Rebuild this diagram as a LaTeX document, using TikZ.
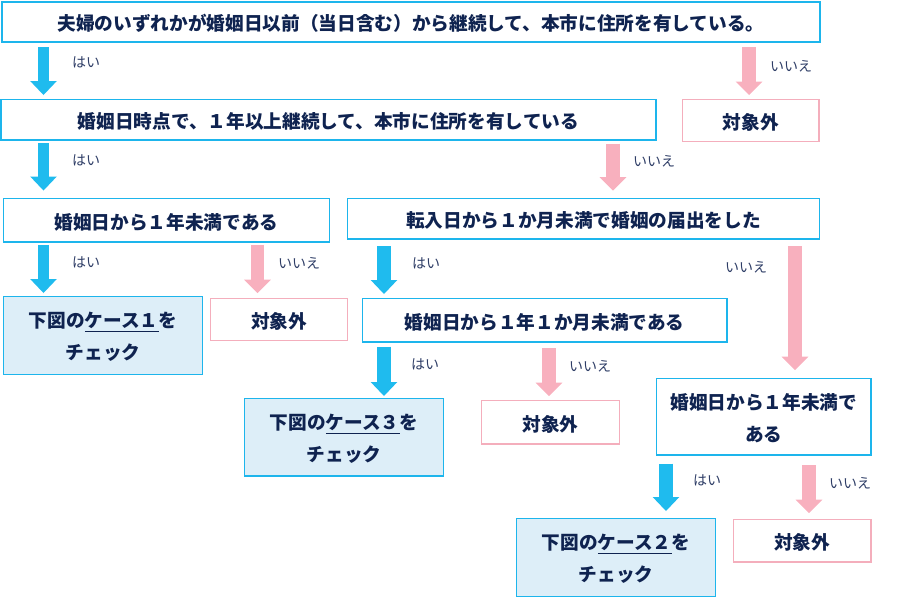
\documentclass[tikz,border=0pt]{standalone}
\usepackage{fontspec}
\newfontfamily\jp{Noto Sans CJK JP}
\usetikzlibrary{arrows.meta}
\definecolor{cyanb}{HTML}{1DB5EC}
\definecolor{pinkb}{HTML}{F4AEBC}
\definecolor{arrblue}{HTML}{1FBBEE}
\definecolor{arrpink}{HTML}{F8B0BE}
\definecolor{lightfill}{HTML}{DDEEF8}
\definecolor{navy}{HTML}{0F2350}
\definecolor{lblc}{HTML}{2E3D66}
\newcommand\bx[7]{\node[#6, minimum width={(#4-#2)*0.75pt}, minimum height={(#5-#3)*0.75pt},
  label={[btext]center:{#7}}] (#1) at ({(#2+#4)/2},{(#3+#5)/2}) {};}
\tikzset{
  qbox/.style={draw=cyanb, line width=0.8pt, inner sep=0pt},
  btext/.style={inner sep=0pt, text=navy, align=center, yshift=-1.3pt,
    font=\jp\bfseries\fontsize{14pt}{24pt}\selectfont},
  cbox/.style={qbox, fill=lightfill},
  xbox/.style={qbox, draw=pinkb},
  yesarr/.style={draw=arrblue, line width=10pt, -{Triangle[width=20pt,length=10.5pt,line width=0pt 0 0]}},
  noarr/.style={draw=arrpink, line width=10pt, -{Triangle[width=20pt,length=10pt,line width=0pt 0 0]}},
  lbl/.style={font=\jp\fontsize{10.5pt}{12pt}\selectfont, text=lblc, inner sep=0pt},
}
\begin{document}
\begin{tikzpicture}[x=0.75pt,y=-0.75pt]
\useasboundingbox (0,0) rectangle (908,597);
% boxes
\bx{n1}{2}{2}{820}{42}{qbox}{夫婦のいずれかが婚姻日以前（当日含む）から継続して、本市に住所を有している。}
\bx{n2}{1}{99.5}{656}{140}{qbox}{婚姻日時点で、１年以上継続して、本市に住所を有している}
\bx{x1}{682.5}{99.5}{819}{141.5}{xbox}{対象外}
\bx{n3}{3.5}{198.5}{329.5}{242}{qbox}{婚姻日から１年未満である}
\bx{n4}{347.5}{198.5}{819.5}{239}{qbox}{転入日から１か月未満で婚姻の届出をした}
\bx{c1}{3.5}{296.5}{202.5}{374.5}{cbox}{下図の\underline{ケース１}を\\チェック}
\bx{x2}{210.5}{298.5}{347.5}{340.5}{xbox}{対象外}
\bx{n5}{362.5}{298.5}{727}{342}{qbox}{婚姻日から１年１か月未満である}
\bx{c3}{244.5}{398.5}{443.5}{476}{cbox}{下図の\underline{ケース３}を\\チェック}
\bx{x3}{481.5}{400.5}{619.5}{444}{xbox}{対象外}
\bx{n6}{656.5}{378.5}{871}{455}{qbox}{婚姻日から１年未満で\\ある}
\bx{c2}{516.5}{518.5}{715.5}{596.5}{cbox}{下図の\underline{ケース２}を\\チェック}
\bx{x4}{733.5}{519.5}{871}{562}{xbox}{対象外}
% arrow end points
\coordinate (a1s) at (43.5,47);   \coordinate (a1e) at (43.5,95);
\coordinate (b1s) at (749,47);    \coordinate (b1e) at (749,95);
\coordinate (a2s) at (43.5,143);  \coordinate (a2e) at (43.5,190.5);
\coordinate (b2s) at (613,143.5); \coordinate (b2e) at (613,190.5);
\coordinate (a3s) at (43.5,245);  \coordinate (a3e) at (43.5,293);
\coordinate (b3s) at (257.5,245); \coordinate (b3e) at (257.5,293);
\coordinate (a4s) at (384,246);   \coordinate (a4e) at (384,294);
\coordinate (b4s) at (795,246);   \coordinate (b4e) at (795,370);
\coordinate (a5s) at (384,346.5); \coordinate (a5e) at (384,396);
\coordinate (b5s) at (549,348);   \coordinate (b5e) at (549,396);
\coordinate (a6s) at (666,463.5); \coordinate (a6e) at (666,511);
\coordinate (b6s) at (809,465);   \coordinate (b6e) at (809,513);
% arrows
\draw[yesarr, line width=8pt] (a1s) -- (a1e);
\draw[noarr] (b1s) -- (b1e);
\draw[yesarr, line width=8pt] (a2s) -- (a2e);
\draw[noarr] (b2s) -- (b2e);
\draw[yesarr, line width=8pt] (a3s) -- (a3e);
\draw[noarr] (b3s) -- (b3e);
\draw[yesarr] (a4s) -- (a4e);
\draw[noarr] (b4s) -- (b4e);
\draw[yesarr] (a5s) -- (a5e);
\draw[noarr] (b5s) -- (b5e);
\draw[yesarr] (a6s) -- (a6e);
\draw[noarr] (b6s) -- (b6e);
% labels
\node[lbl] (l1) at (86,62) {はい};
\node[lbl] (m1) at (791,66) {いいえ};
\node[lbl] (l2) at (86,160) {はい};
\node[lbl] (m2) at (654,161) {いいえ};
\node[lbl] (l3) at (86,262) {はい};
\node[lbl] (m3) at (299,263) {いいえ};
\node[lbl] (l4) at (426,263) {はい};
\node[lbl] (m4) at (746,267) {いいえ};
\node[lbl] (l5) at (425,364) {はい};
\node[lbl] (m5) at (590,366) {いいえ};
\node[lbl] (l6) at (707,480) {はい};
\node[lbl] (m6) at (850,483) {いいえ};
\end{tikzpicture}
\end{document}
